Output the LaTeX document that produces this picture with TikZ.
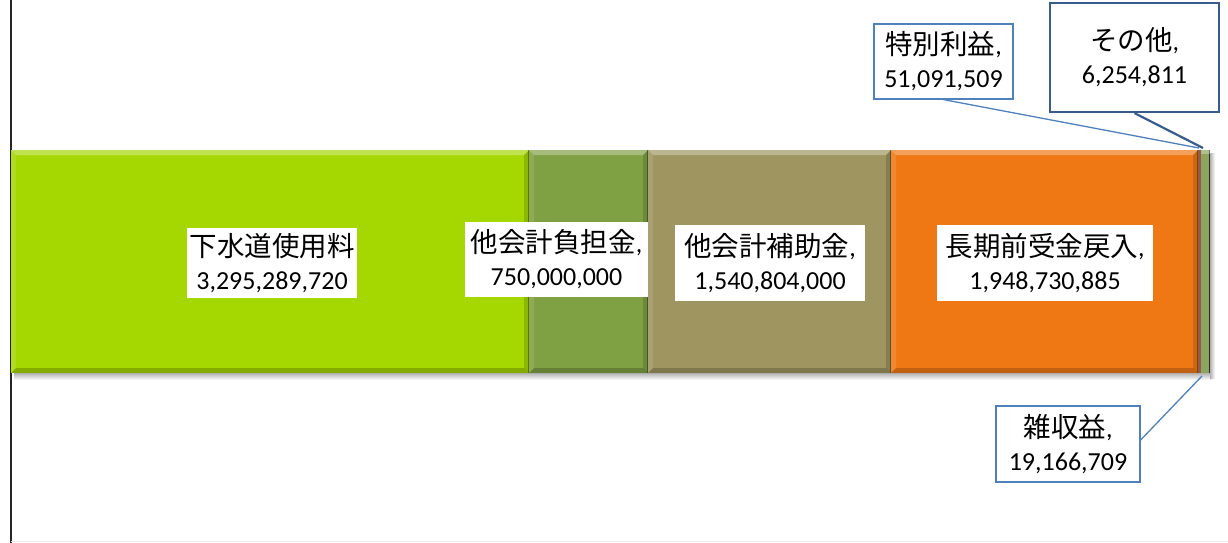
\documentclass[tikz,border=0pt]{standalone}
\usepackage{fontspec}
\setmainfont{Carlito}
\newfontfamily\jpf{Noto Sans CJK JP}
\newcommand\jp{\jpf\fontsize{27.5}{33}\selectfont}
\definecolor{cA}{RGB}{165,216,0}
\definecolor{cB}{RGB}{128,160,68}
\definecolor{cC}{RGB}{158,149,96}
\definecolor{cD}{RGB}{240,120,20}
\definecolor{cE}{RGB}{150,90,75}
\definecolor{cF}{RGB}{140,166,96}
\definecolor{lblue}{RGB}{79,129,189}
\definecolor{dblue}{RGB}{56,93,138}
\newcommand\barseg[3]{%
  \fill[#3] (#1,150) rectangle (#2,373);
  \fill[white,opacity=0.3] (#1,150) -- (#2,150) -- ({#2-5},155) -- ({#1+5},155) -- cycle;
  \fill[white,opacity=0.12] (#1,150) -- ({#1+5},155) -- ({#1+5},368) -- (#1,373) -- cycle;
  \fill[black,opacity=0.2] (#1,373) -- (#2,373) -- ({#2-5},368) -- ({#1+5},368) -- cycle;
  \fill[black,opacity=0.15] (#2,150) -- ({#2-5},155) -- ({#2-5},368) -- (#2,373) -- cycle;
  \draw[black,opacity=0.35,line width=0.8pt] ({#2-0.4},150) -- ({#2-0.4},373);
}
\tikzset{
  lbl/.style={fill=white, align=center, inner sep=0pt, font=\fontsize{26}{33}\selectfont},
  lblb/.style={lbl, draw=lblue, line width=1.2pt},
  lbld/.style={lbl, draw=dblue, line width=2.2pt},
  leadb/.style={draw=lblue, line width=1.3pt},
  leadd/.style={draw=dblue, line width=2.2pt},
}
\begin{document}
\begin{tikzpicture}[x=1pt,y=-1pt]
\useasboundingbox (0,0) rectangle (1228,543);
\fill[white] (0,0) rectangle (1228,543);
\draw[black!85, line width=2pt] (10.5,0) -- (10.5,543);
\draw[black!8, line width=1.5pt] (11,541.5) -- (1228,541.5);
% shadow
\shade[top color=black!30, bottom color=white] (14,373) rectangle (1213,380);
\shade[left color=black!30, right color=white] (1210,153) rectangle (1215,378);
% bar segments
\barseg{11}{529}{cA}
\barseg{529}{648}{cB}
\barseg{648}{891}{cC}
\barseg{891}{1198}{cD}
\fill[cE] (1198,150) rectangle (1201,373);
\fill[cF] (1201,150) rectangle (1210,373);
\draw[black!70!cF, line width=0.8pt] (1209.5,150) -- (1209.5,373);
\fill[white,opacity=0.3] (1201,150) rectangle (1210,154);
% in-bar labels
\node[lbl, minimum width=170pt, minimum height=70pt] (n1) at (272,263) {{\jp 下水道使用料}\\3,295,289,720};
\node[lbl, minimum width=183pt, minimum height=75pt] (n2) at (556.5,259.5) {{\jp 他会計負担金}{,}\\750,000,000};
\node[lbl, minimum width=190pt, minimum height=76pt] (n3) at (770,263) {{\jp 他会計補助金}{,}\\1,540,804,000};
\node[lbl, minimum width=216pt, minimum height=76pt] (n4) at (1045,263) {{\jp 長期前受金戻入}{,}\\1,948,730,885};
% callouts
\node[lblb, minimum width=139pt, minimum height=75pt] (n5) at (943.5,61.5) {{\jp 特別利益}{,}\\51,091,509};
\node[lbld, minimum width=169pt, minimum height=109pt] (n6) at (1134.5,57.5) {{\jp その他}{,}\\6,254,811};
\node[lblb, minimum width=144pt, minimum height=76pt] (n7) at (1068,444) {{\jp 雑収益}{,}\\19,166,709};
\coordinate (p5) at (1199,148);
\coordinate (p6) at (1203,148);
\coordinate (p7) at (1202,376);
\draw[leadb] (n5.south) -- (p5);
\draw[leadd] (n6.south) -- (p6);
\draw[leadb] ([yshift=4pt]n7.east) -- (p7);
\end{tikzpicture}
\end{document}
